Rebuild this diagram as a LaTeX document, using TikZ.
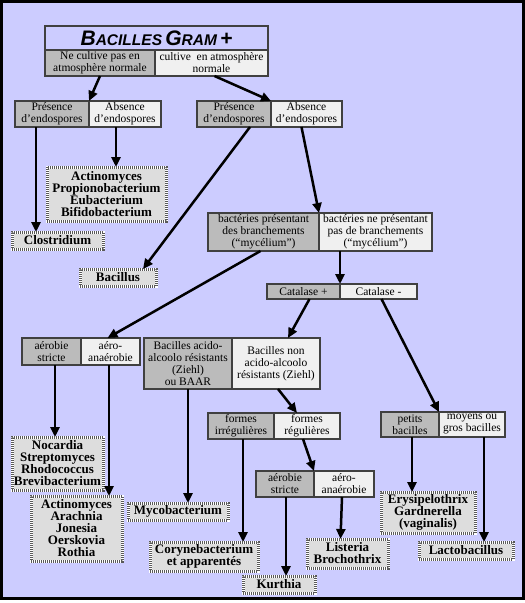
\documentclass[tikz,border=0pt]{standalone}
\usepackage{fontspec}
\setmainfont{Liberation Serif}
\newfontfamily\titlefont{Liberation Sans}
\usetikzlibrary{positioning,arrows.meta}
\definecolor{lavender}{RGB}{204,204,255}
\definecolor{boxgray}{RGB}{187,187,187}
\definecolor{boxlight}{RGB}{240,240,240}
\definecolor{boxline}{RGB}{64,64,64}
\definecolor{leafgray}{RGB}{221,221,221}
\tikzset{
  box/.style={draw=boxline, line width=2pt, align=center, inner sep=0.5pt, outer sep=0pt,
    font=\fontsize{11.5}{12}\selectfont},
  gbox/.style={box, fill=boxgray},
  lbox/.style={box, fill=boxlight},
  leaf/.style={draw=white, fill=leafgray, line width=3pt, align=center, inner sep=0.5pt, outer sep=0pt,
    font=\fontsize{13}{12}\selectfont\bfseries,
    postaction={draw=black!65, line width=3pt, dash pattern=on 1pt off 1pt}},
  arr/.style={line width=2.5pt, -{Triangle[length=10pt,width=9pt]}},
}
\newcommand{\bigsc}[2]{{\fontsize{21}{21}\selectfont #1}{\fontsize{15.5}{15.5}\selectfont #2}}
\begin{document}
\begin{tikzpicture}[x=1pt,y=-1pt]
\useasboundingbox (0,0) rectangle (525,603);
%\draw[step=25,gray,very thin] (0,0) grid (525,603);
\draw[line width=3pt,fill=lavender] (1.5,1.5) rectangle (523.5,598);
% first level
\node[box, fill=lavender, minimum width=223pt, minimum height=24pt] (title) at (156.5,38)
  {\titlefont\bfseries\itshape \bigsc{B}{ACILLES} \bigsc{G}{RAM} \bigsc{+}{}};
\node[gbox, minimum width=110pt, minimum height=26pt] (ncp) at (100,63) {Ne cultive pas en\\atmosphère normale};
\node[lbox, minimum width=113pt, minimum height=26pt, right=0pt of ncp] (cult) {cultive~ en atmosphère\\normale};
\node[gbox, minimum width=74pt, minimum height=26pt] (presL) at (52,114) {Présence\\d’endospores};
\node[lbox, minimum width=72pt, minimum height=26pt, right=0pt of presL] (absL) {Absence\\d’endospores};
\node[gbox, minimum width=74pt, minimum height=26pt] (presR) at (234,114) {Présence\\d’endospores};
\node[lbox, minimum width=71pt, minimum height=26pt, right=0pt of presR] (absR) {Absence\\d’endospores};
\node[gbox, minimum width=111pt, minimum height=38pt] (bact) at (263.5,232) {bactéries présentant\\des branchements\\(“mycélium”)};
\node[lbox, minimum width=113pt, minimum height=38pt, right=0pt of bact] (bactNo) {bactéries ne présentant\\pas de branchements\\(“mycélium”)};
\node[gbox, minimum width=73pt, minimum height=15pt] (catP) at (303.5,291.5) {Catalase +};
\node[lbox, minimum width=77pt, minimum height=15pt, right=0pt of catP] (catM) {Catalase -};
\node[gbox, minimum width=59pt, minimum height=27pt] (aerA) at (51.5,351.5) {aérobie\\stricte};
\node[lbox, minimum width=59pt, minimum height=27pt, right=0pt of aerA] (aeroA) {aéro-\\anaérobie};
\node[gbox, minimum width=88pt, minimum height=51pt] (baar) at (188,363.5) {Bacilles acido-\\alcoolo résistants\\(Ziehl)\\ou BAAR};
\node[lbox, minimum width=88pt, minimum height=51pt, right=0pt of baar] (nonbaar) {Bacilles non\\acido-alcoolo\\résistants (Ziehl)};
\node[gbox, minimum width=66pt, minimum height=26pt] (irr) at (241,426) {formes\\irrégulières};
\node[lbox, minimum width=66pt, minimum height=26pt, right=0pt of irr] (reg) {formes\\régulières};
\node[gbox, minimum width=58pt, minimum height=26pt] (aerB) at (285,484) {aérobie\\stricte};
\node[lbox, minimum width=60pt, minimum height=26pt, right=0pt of aerB] (aeroB) {aéro-\\anaérobie};
\node[gbox, minimum width=58pt, minimum height=25pt] (pet) at (410,424.5) {petits\\bacilles};
\node[lbox, minimum width=66pt, minimum height=25pt, right=0pt of pet] (moy) {moyens ou\\gros bacilles};
% genres
\node[leaf, minimum width=119pt, minimum height=54pt] (acti) at (106.5,194) {Actinomyces\\Propionobacterium\\Eubacterium\\Bifidobacterium};
\node[leaf, minimum width=91pt, minimum height=17pt] (clos) at (57.5,240.5) {Clostridium};
\node[leaf, minimum width=76pt, minimum height=17pt] (bacil) at (118,277.5) {Bacillus};
\node[leaf, minimum width=91pt, minimum height=53pt] (noca) at (57.5,463.5) {Nocardia\\Streptomyces\\Rhodococcus\\Brevibacterium};
\node[leaf, minimum width=91pt, minimum height=65pt] (actiB) at (76.5,528.5) {Actinomyces\\Arachnia\\Jonesia\\Oerskovia\\Rothia};
\node[leaf, minimum width=100pt, minimum height=17pt] (myco) at (178,511.5) {Mycobacterium};
\node[leaf, minimum width=108pt, minimum height=29pt] (cory) at (204,556.5) {Corynebacterium\\et apparentés};
\node[leaf, minimum width=72pt, minimum height=17pt] (kurt) at (279,584.5) {Kurthia};
\node[leaf, minimum width=81pt, minimum height=29pt] (list) at (347.5,553.5) {Listeria\\Brochothrix};
\node[leaf, minimum width=94pt, minimum height=41pt] (erys) at (428,512.5) {Erysipelothrix\\Gardnerella\\(vaginalis)};
\node[leaf, minimum width=94pt, minimum height=17pt] (lact) at (466,550.5) {Lactobacillus};
% arrows
\draw[arr] (ncp.south) -- (presL.north east);
\draw[arr] ([xshift=3pt]cult.south) -- (presR.north east);
\draw[arr] ([xshift=-16pt]presL.south) -- ([xshift=-16pt]presL.south |- clos.north);
\draw[arr] ([xshift=-9pt]absL.south) -- ([xshift=-9pt]absL.south |- acti.north);
\draw[arr] ([xshift=16pt]presR.south) -- ([xshift=25pt]bacil.north);
\draw[arr] ([xshift=-5pt]absR.south) -- (bact.north east);
\draw[arr] (bactNo.south -| catP.east) -- (catP.north east);
\draw[arr] ([xshift=-3pt]bact.south) -- ([xshift=-3pt]aeroA.north);
\draw[arr] ([xshift=6pt]catP.south) -- ([xshift=12pt]nonbaar.north);
\draw[arr] ([xshift=3pt]catM.south) -- (pet.north east);
\draw[arr] ([xshift=2pt]nonbaar.south) -- ([xshift=-10pt]reg.north);
\draw[arr] ([xshift=-4pt]reg.south) -- (aerB.north east);
\draw[arr] ([xshift=3.5pt]aerA.south) -- ([xshift=3.5pt]aerA.south |- noca.north);
\draw[arr] ([xshift=-1.5pt]aeroA.south) -- ([xshift=-1.5pt]aeroA.south |- actiB.north);
\draw[arr] (baar.south) -- (baar.south |- myco.north);
\draw[arr] ([xshift=2pt]irr.south) -- ([xshift=2pt]irr.south |- cory.north);
\draw[arr] ([xshift=1pt]aerB.south) -- ([xshift=1pt]aerB.south |- kurt.north);
\draw[arr] ([xshift=-2pt]aeroB.south) -- ([xshift=-7pt]list.north);
\draw[arr] ([xshift=2pt]pet.south) -- ([xshift=2pt]pet.south |- erys.north);
\draw[arr] ([xshift=12pt]moy.south) -- ([xshift=12pt]moy.south |- lact.north);
\end{tikzpicture}
\end{document}
